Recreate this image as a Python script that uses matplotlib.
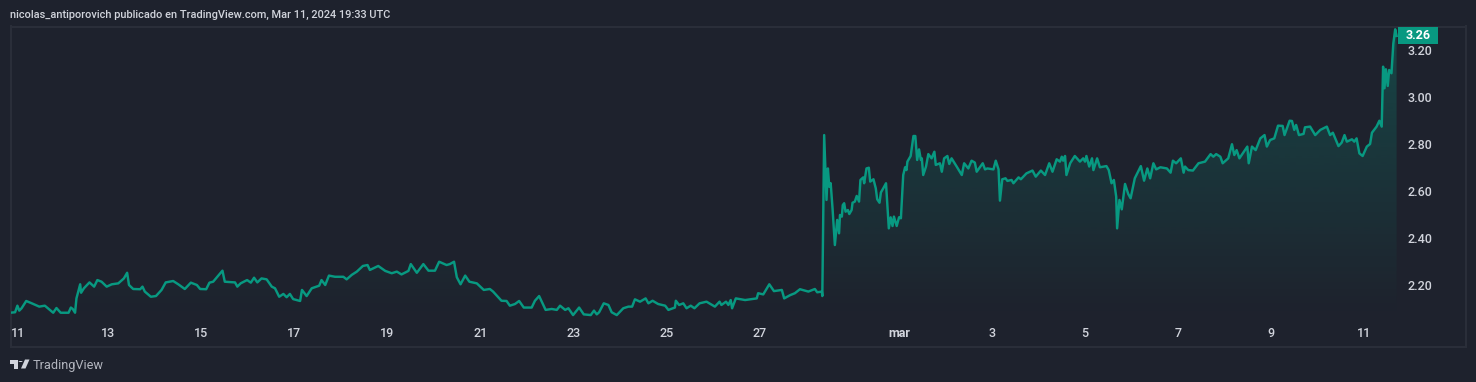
import numpy as np
import matplotlib
matplotlib.use("Agg")
import matplotlib.pyplot as plt
from matplotlib.patches import Polygon, Rectangle, Circle
from matplotlib.transforms import ScaledTranslation

W, H = 1476, 382
BG = "#1e222d"
BORDER = "#2a2e39"
LINE = "#089981"
TXT = "#d1d4dc"
FONT = "Roboto"

# days since Feb 11 2024
days = [
 -0.13,-0.02,0.03,0.07,0.12,0.22,0.34,0.50,0.62,0.73,0.80,0.87,0.96,1.13,1.18,1.22,1.27,1.30,1.38,1.40,
 1.46,1.58,1.68,1.75,1.84,1.95,2.06,2.20,2.32,2.39,2.43,2.52,2.67,2.72,2.77,2.90,3.01,3.13,3.22,3.38,
 3.49,3.63,3.76,3.89,3.96,4.09,4.16,4.24,4.32,4.44,4.49,4.71,4.76,4.83,4.97,5.05,5.12,5.19,5.28,5.39,
 5.50,5.57,5.66,5.75,5.82,5.89,5.96,6.11,6.15,6.25,6.36,6.52,6.57,6.65,6.73,6.86,7.04,7.11,7.22,7.33,
 7.46,7.56,7.61,7.79,7.94,8.08,8.19,8.29,8.44,8.49,8.62,8.76,8.87,9.01,9.10,9.26,9.33,9.42,9.48,9.56,
 9.66,9.75,9.91,10.06,10.19,
 10.26,10.44,10.55,10.62,10.73,10.82,10.92,11.09,11.16,11.25,11.39,11.52,11.63,11.70,11.81,11.88,11.98,
 12.11,12.21,12.36,12.43,12.49,12.54,12.64,12.74,12.81,12.92,13.06,13.17,13.25,13.31,13.42,13.54,13.60,
 13.69,13.81,13.96,14.03,14.17,14.19,14.26,14.35,14.42,14.51,14.59,14.70,14.85,15.03,15.13,15.17,15.27,
 15.32,15.37,15.40,15.48,15.68,15.93,15.96,16.07,16.20,16.30,16.47,16.52,16.65,16.75,16.86,17.04,17.18,
 17.23,17.33,17.34,
 17.38,17.41,17.43,17.46,17.49,17.52,17.56,17.61,17.66,17.70,17.72,17.76,17.78,17.81,17.84,17.89,17.92,
 17.97,17.99,18.04,18.08,18.13,18.16,18.22,18.24,18.29,18.34,18.37,18.44,18.49,18.52,18.57,18.60,18.65,
 18.71,18.74,18.77,18.81,18.85,18.88,18.94,18.99,19.03,19.08,19.12,19.15,19.17,19.24,19.30,19.34,19.38,
 19.42,19.46,19.48,19.51,19.57,19.62,19.69,19.75,19.78,19.87,19.91,19.96,20.03,20.07,20.12,20.23,20.34,
 20.39,20.48,20.55,20.62,20.66,20.79,20.84,20.89,21.02,21.07,21.13,21.16,21.21,21.28,21.32,21.41,21.45,
 21.56,21.61,21.73,21.86,21.93,22.04,22.13,22.22,22.29,22.38,22.45,22.49,22.52,22.56,22.59,22.67,22.77,
 22.88,22.95,22.99,23.02,23.08,23.14,23.17,23.25,23.31,23.45,23.50,23.56,23.61,23.66,23.68,23.73,23.78,
 23.85,23.92,23.97,24.06,24.19,24.26,24.33,
 24.39,24.46,24.52,24.61,24.75,24.83,24.88,24.95,25.05,25.11,25.14,25.21,25.31,25.43,25.57,25.69,25.75,
 25.81,25.90,25.95,26.07,26.15,26.20,26.25,26.31,26.48,26.51,26.58,26.66,26.76,26.85,26.90,26.97,27.06,
 27.14,27.24,27.28,27.39,27.44,27.49,27.53,27.59,27.69,27.72,27.83,27.94,28.05,28.19,28.26,28.32,28.44,
 28.51,28.57,28.62,28.73,28.78,28.83,28.89,28.96,29.05,29.12,29.16,29.26,29.32,29.37,29.40,29.43,29.46,
 29.50,29.53,29.58,29.62,29.66,29.69,
]
prices = [
 2.082,2.084,2.112,2.091,2.101,2.132,2.122,2.108,2.112,2.094,2.082,2.102,2.082,2.082,2.104,2.098,2.082,2.143,2.203,2.167,
 2.186,2.211,2.193,2.221,2.214,2.193,2.203,2.207,2.228,2.252,2.200,2.183,2.182,2.193,2.172,2.150,2.153,2.179,2.211,2.217,
 2.203,2.183,2.210,2.200,2.183,2.182,2.210,2.214,2.233,2.261,2.214,2.211,2.193,2.207,2.221,2.210,2.231,2.211,2.228,2.224,
 2.193,2.186,2.150,2.162,2.148,2.162,2.140,2.132,2.179,2.153,2.186,2.197,2.221,2.200,2.240,2.235,2.235,2.224,2.243,2.257,
 2.281,2.285,2.264,2.281,2.260,2.250,2.257,2.245,2.260,2.289,2.252,2.289,2.261,2.261,2.299,2.285,2.289,2.299,2.233,2.203,
 2.240,2.214,2.207,2.179,2.183,
 2.172,2.133,2.132,2.112,2.119,2.132,2.104,2.104,2.133,2.153,2.094,2.098,2.094,2.112,2.094,2.101,2.072,
 2.104,2.075,2.072,2.091,2.075,2.084,2.122,2.115,2.084,2.072,2.101,2.108,2.108,2.139,2.129,2.143,2.122,
 2.133,2.119,2.112,2.094,2.104,2.133,2.115,2.122,2.101,2.112,2.101,2.122,2.129,2.108,2.129,2.115,2.129,
 2.115,2.136,2.101,2.143,2.136,2.143,2.165,2.160,2.203,2.174,2.179,2.143,2.157,2.165,2.182,2.172,2.183,
 2.169,2.172,2.153,
 2.838,2.675,2.562,2.696,2.618,2.633,2.526,2.370,2.477,2.420,2.498,2.491,2.540,2.548,2.512,2.519,2.502,
 2.519,2.550,2.555,2.579,2.555,2.647,2.658,2.633,2.696,2.699,2.640,2.650,2.611,2.565,2.550,2.594,2.611,
 2.633,2.540,2.441,2.488,2.451,2.491,2.451,2.488,2.484,2.668,2.701,2.689,2.725,2.749,2.834,2.834,2.732,
 2.777,2.732,2.739,2.668,2.704,2.757,2.739,2.767,2.711,2.718,2.682,2.739,2.749,2.715,2.739,2.704,2.668,
 2.718,2.696,2.729,2.721,2.682,2.718,2.692,2.696,2.692,2.729,2.692,2.559,2.650,2.654,2.643,2.647,2.633,
 2.658,2.650,2.675,2.687,2.661,2.687,2.668,2.718,2.682,2.735,2.725,2.746,2.729,2.749,2.668,2.718,2.749,
 2.725,2.739,2.725,2.749,2.704,2.739,2.689,2.739,2.701,2.706,2.689,2.633,2.647,2.576,2.441,2.562,2.522,
 2.630,2.587,2.569,2.654,2.706,2.644,2.696,
 2.654,2.718,2.692,2.701,2.696,2.678,2.729,2.718,2.739,2.678,2.704,2.689,2.687,2.718,2.725,2.757,2.746,
 2.757,2.746,2.718,2.739,2.799,2.753,2.774,2.739,2.789,2.718,2.789,2.774,2.824,2.838,2.789,2.817,2.824,
 2.878,2.877,2.838,2.899,2.898,2.860,2.881,2.838,2.843,2.871,2.874,2.838,2.860,2.874,2.838,2.848,2.791,
 2.806,2.838,2.810,2.820,2.810,2.824,2.760,2.749,2.789,2.800,2.848,2.874,2.899,2.874,3.129,3.037,3.118,
 3.047,3.115,3.101,3.228,3.288,3.260,
]
x_ticks = [0, 2, 4, 6, 8, 10, 12, 14, 16, 19, 21, 23, 25, 27, 29]
x_labels = ["11", "13", "15", "17", "19", "21", "23", "25", "27", "mar", "3", "5", "7", "9", "11"]
y_ticks = [2.20, 2.40, 2.60, 2.80, 3.00, 3.20]
last_price = 3.26

plt.rcParams["font.family"] = [FONT, "DejaVu Sans"]
fig = plt.figure(figsize=(W / 100, H / 100), dpi=100, facecolor=BG)

L, R, T, B = 10.5, 1466, 26.5, 347
ax = fig.add_axes([L / W, 1 - B / H, (R - L) / W, (B - T) / H], facecolor=BG)
# pixel scale: 46.5 px per day, 235 px per price unit
ax.set_xlim((L - 16) / 46.5, (R - 16) / 46.5)
ax.set_ylim(2.20 + (285 - B) / 235, 2.20 + (285 - T) / 235)

for s in ax.spines.values():
    s.set_color(BORDER)
    s.set_linewidth(1.5)

# gradient area below the line
fb = ax.fill_between(days, prices, ax.get_ylim()[0], facecolor="none", edgecolor="none")
y0, y1 = ax.get_ylim()
x0, x1 = ax.get_xlim()
grad_y = np.linspace(0, 1, 256)[:, None]          # 0 at the bottom of the pane
rgba = np.zeros((256, 1, 4))
rgba[..., :3] = matplotlib.colors.to_rgb(LINE)
rgba[..., 3] = np.clip((grad_y - 0.10) / 0.90, 0, 1) * 0.31
im = ax.imshow(rgba, origin="lower", aspect="auto", interpolation="bilinear",
               extent=[x0, x1, y0, y1], zorder=1)
im.set_clip_path(fb.get_paths()[0], transform=ax.transData)
ax.set_xlim(x0, x1)
ax.set_ylim(y0, y1)

ax.plot(days, prices, color=LINE, lw=1.75, solid_joinstyle="round", zorder=3)

# axes labels drawn inside the pane like the original
ax.set_xticks(x_ticks, x_labels)
ax.yaxis.tick_right()
ax.set_yticks(y_ticks, [f"{v:.2f}" for v in y_ticks])
ax.tick_params(axis="x", length=0, pad=-14.4, labelsize=9, labelcolor=TXT)
ax.tick_params(axis="y", length=0, pad=-41.8, labelsize=9, labelcolor=TXT)
for i, lab in enumerate(ax.get_xticklabels()):
    lab.set_fontweight("medium")
    dx = 2.0 if i == 0 else -0.5
    lab.set_transform(lab.get_transform() + ScaledTranslation(dx / 100, 0, fig.dpi_scale_trans))
for lab in ax.get_yticklabels():
    lab.set_fontweight("medium")
ax.get_xticklabels()[x_labels.index("mar")].set_fontweight("bold")

# last price badge
ax.add_patch(Rectangle((29.72, last_price - 0.036), 0.86, 0.072, facecolor=LINE,
                       edgecolor="none", zorder=5, clip_on=False))
ax.text(29.72 + 0.43, last_price, f"{last_price:.2f}", color="white", fontsize=9,
        fontweight="bold", ha="center", va="center", zorder=6)

# header and footer
fig.text(10 / W, 1 - 15 / H, "nicolas_antiporovich publicado en TradingView.com, Mar 11, 2024 19:33 UTC",
         color=TXT, fontsize=7.95, fontweight="medium", ha="left", va="center")
fig.text(33 / W, 1 - 365 / H, "TradingView", color="#b2b5be", fontsize=9.2, ha="left", va="center")


def px(points):
    return [(a / W, 1 - b / H) for a, b in points]


LOGO = "#d1d4dc"
for shape in (
    [(10, 359.5), (18, 359.5), (18, 368.5), (14, 368.5), (14, 363.5), (10, 363.5)],
    [(21, 368.5), (25, 359.5), (29.5, 359.5), (25.5, 368.5)],
):
    fig.add_artist(Polygon(px(shape), closed=True, facecolor=LOGO, edgecolor="none",
                           transform=fig.transFigure))
fig.add_artist(Circle((20.6 / W, 1 - 361.5 / H), 2.0 / W, facecolor=LOGO,
                      edgecolor="none", transform=fig.transFigure))

fig.savefig("out.png", dpi=100, facecolor=BG)
